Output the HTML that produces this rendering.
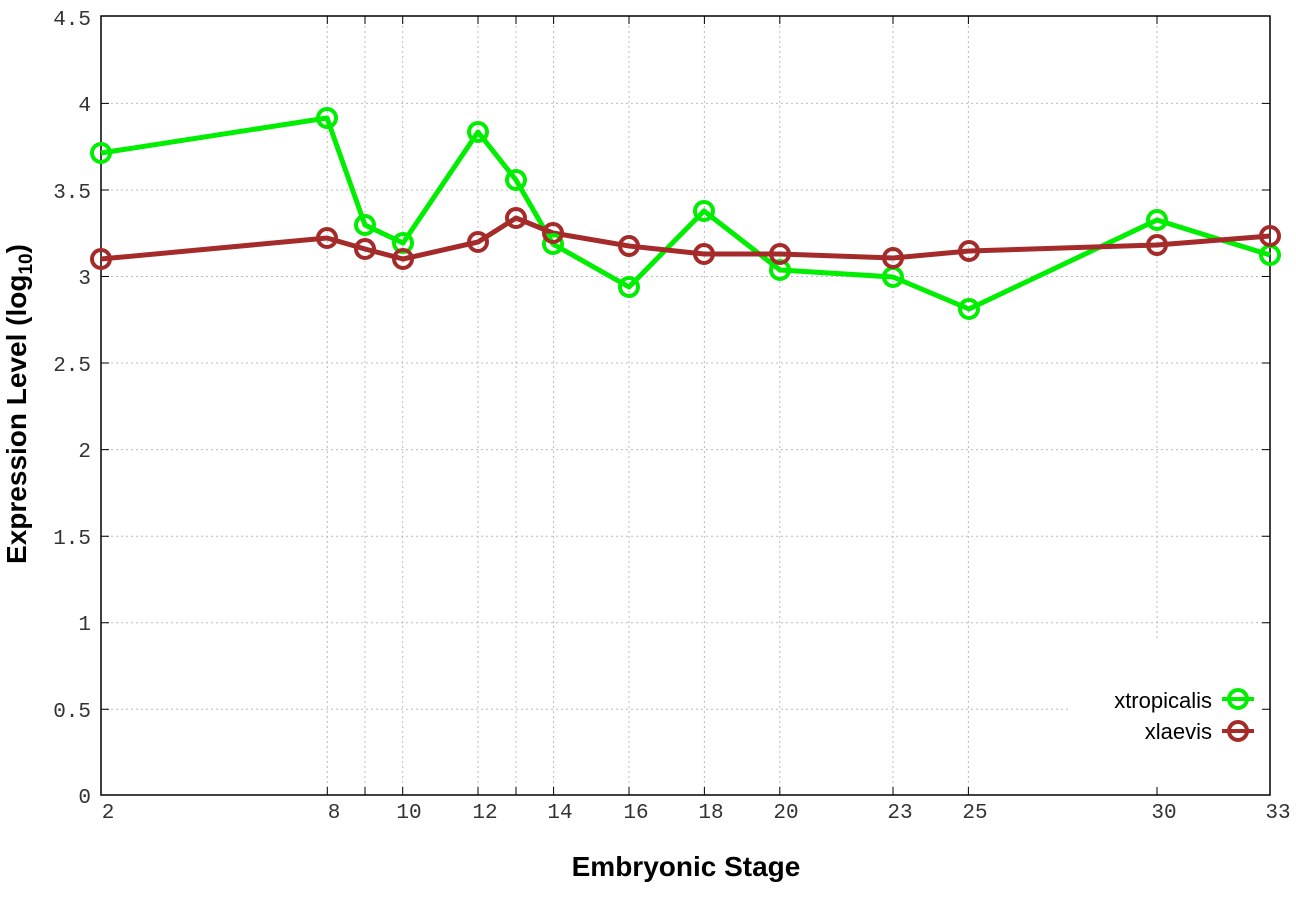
<!DOCTYPE html>
<html><head><style>body{margin:0;background:#fff}svg{display:block}</style></head><body>
<svg width="1296" height="907" xmlns="http://www.w3.org/2000/svg">
<g stroke="#bbb" stroke-width="1" stroke-dasharray="2,3">
<line x1="101" x2="1270" y1="103.4" y2="103.4"/><line x1="101" x2="1270" y1="190" y2="190"/><line x1="101" x2="1270" y1="276.5" y2="276.5"/><line x1="101" x2="1270" y1="363" y2="363"/><line x1="101" x2="1270" y1="449.6" y2="449.6"/><line x1="101" x2="1270" y1="536.2" y2="536.2"/><line x1="101" x2="1270" y1="622.7" y2="622.7"/><line x1="101" x2="1070" y1="709.3" y2="709.3"/>
<line x1="327.3" x2="327.3" y1="16" y2="795"/><line x1="365" x2="365" y1="16" y2="795"/><line x1="402.7" x2="402.7" y1="16" y2="795"/><line x1="478" x2="478" y1="16" y2="795"/><line x1="516" x2="516" y1="16" y2="795"/><line x1="553.6" x2="553.6" y1="16" y2="795"/><line x1="629" x2="629" y1="16" y2="795"/><line x1="704.4" x2="704.4" y1="16" y2="795"/><line x1="779.8" x2="779.8" y1="16" y2="795"/><line x1="893" x2="893" y1="16" y2="795"/><line x1="968.4" x2="968.4" y1="16" y2="795"/><line x1="1157" x2="1157" y1="16" y2="640"/>
</g>
<rect x="101" y="16" width="1169" height="779" fill="none" stroke="#000" stroke-width="1.5"/>
<g stroke="#000" stroke-width="1">
<path d="M101 103.4h8M101 190h8M101 276.5h8M101 363h8M101 449.6h8M101 536.2h8M101 622.7h8M101 709.3h8M1270 103.4h-8M1270 190h-8M1270 276.5h-8M1270 363h-8M1270 449.6h-8M1270 536.2h-8M1270 622.7h-8M1270 709.3h-8"/>
<path d="M327.3 795v-8M365 795v-8M402.7 795v-8M478 795v-8M516 795v-8M553.6 795v-8M629 795v-8M704.4 795v-8M779.8 795v-8M893 795v-8M968.4 795v-8M1157 795v-8M327.3 16v8M365 16v8M402.7 16v8M478 16v8M516 16v8M553.6 16v8M629 16v8M704.4 16v8M779.8 16v8M893 16v8M968.4 16v8M1157 16v8"/>
</g>
<g font-family="Liberation Mono, monospace" font-size="21" fill="#333" text-anchor="end">
<text x="91" y="25">4.5</text><text x="91" y="111">4</text><text x="91" y="198">3.5</text><text x="91" y="284">3</text><text x="91" y="371">2.5</text><text x="91" y="457">2</text><text x="91" y="544">1.5</text><text x="91" y="630">1</text><text x="91" y="717">0.5</text><text x="91" y="803">0</text>
</g>
<g font-family="Liberation Mono, monospace" font-size="21" fill="#333" text-anchor="middle">
<text x="108" y="818">2</text><text x="334" y="818">8</text><text x="409" y="818">10</text><text x="485" y="818">12</text><text x="560" y="818">14</text><text x="636" y="818">16</text><text x="711" y="818">18</text><text x="786" y="818">20</text><text x="900" y="818">23</text><text x="975" y="818">25</text><text x="1164" y="818">30</text><text x="1278" y="818">33</text>
</g>
<text x="686" y="876" font-family="Liberation Sans, sans-serif" font-weight="bold" font-size="28" text-anchor="middle">Embryonic Stage</text>
<text transform="translate(26,404) rotate(-90)" font-family="Liberation Sans, sans-serif" font-weight="bold" font-size="28" text-anchor="middle">Expression Level (log<tspan font-size="19" dy="6">10</tspan><tspan dy="-6">)</tspan></text>
<g fill="none" stroke-width="5" stroke-linejoin="round">
<polyline stroke="#00ee00" points="101,153 327,118 365,225 403,243 478,132 516,180 553,244 629,287 704,211 780,270 893,277 969,309 1157,220 1270,255"/>
<polyline stroke="#a52a2a" points="101,259 327,238 365,249 403,259 478,242 516,218 553,233 629,246 704,254 780,254 893,258 969,251 1157,245 1270,236"/>
</g>
<g fill="none" stroke-width="4">
<g stroke="#00ee00"><circle cx="101" cy="153" r="9"/><circle cx="327" cy="118" r="9"/><circle cx="365" cy="225" r="9"/><circle cx="403" cy="243" r="9"/><circle cx="478" cy="132" r="9"/><circle cx="516" cy="180" r="9"/><circle cx="553" cy="244" r="9"/><circle cx="629" cy="287" r="9"/><circle cx="704" cy="211" r="9"/><circle cx="780" cy="270" r="9"/><circle cx="893" cy="277" r="9"/><circle cx="969" cy="309" r="9"/><circle cx="1157" cy="220" r="9"/><circle cx="1270" cy="255" r="9"/></g>
<g stroke="#a52a2a"><circle cx="101" cy="259" r="9"/><circle cx="327" cy="238" r="9"/><circle cx="365" cy="249" r="9"/><circle cx="403" cy="259" r="9"/><circle cx="478" cy="242" r="9"/><circle cx="516" cy="218" r="9"/><circle cx="553" cy="233" r="9"/><circle cx="629" cy="246" r="9"/><circle cx="704" cy="254" r="9"/><circle cx="780" cy="254" r="9"/><circle cx="893" cy="258" r="9"/><circle cx="969" cy="251" r="9"/><circle cx="1157" cy="245" r="9"/><circle cx="1270" cy="236" r="9"/></g>
</g>
<g font-family="Liberation Sans, sans-serif" font-size="22" fill="#000" text-anchor="end">
<text x="1212" y="708">xtropicalis</text><text x="1212" y="739">xlaevis</text>
</g>
<g stroke-width="4" fill="none">
<line x1="1222" x2="1254" y1="699" y2="699" stroke="#00ee00"/><circle cx="1238" cy="699" r="9" stroke="#00ee00"/>
<line x1="1222" x2="1254" y1="731" y2="731" stroke="#a52a2a"/><circle cx="1238" cy="731" r="9" stroke="#a52a2a"/>
</g>
</svg>
</body></html>
